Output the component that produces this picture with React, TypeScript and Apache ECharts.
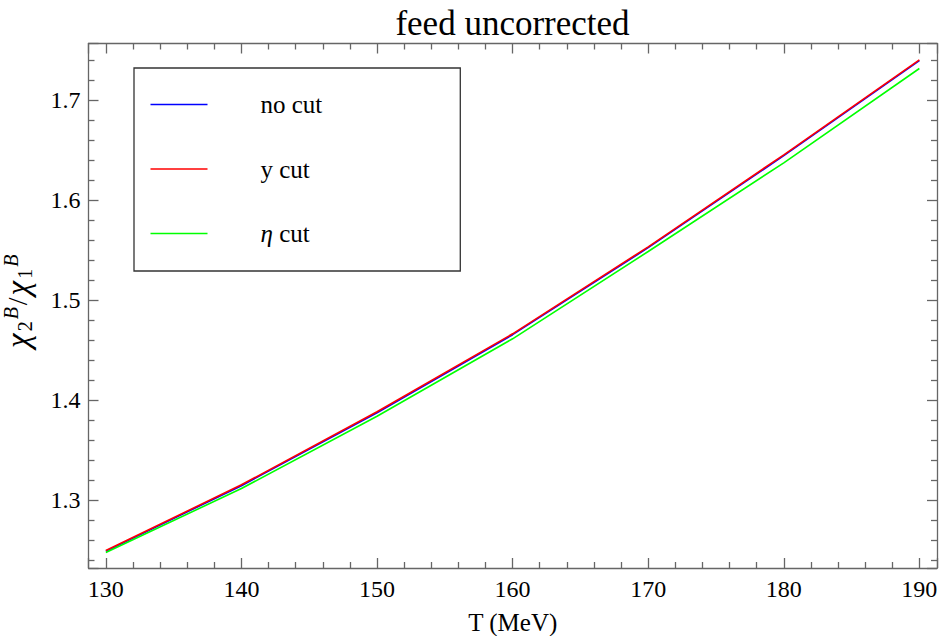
import React, { useEffect, useRef } from "react";
import * as echarts from "echarts";

const temperatures = [130, 140, 150, 160, 170, 180, 190];
const noCut = [1.2488, 1.3143, 1.3873, 1.4653, 1.5523, 1.6443, 1.7393];
const yCut = [1.2495, 1.3152, 1.3882, 1.4662, 1.5532, 1.6452, 1.7402];
const etaCut = [1.2475, 1.3115, 1.3838, 1.4612, 1.5485, 1.6372, 1.7315];

const seriesNames = ["no cut", "y cut", "η cut"];
const seriesColors = ["#0000ff", "#ff0000", "#00ff00"];
const seriesValues = [noCut, yCut, etaCut];

const FONT = "Liberation Serif";
const AXIS_GRAY = "#666666";

export default function App() {
  const ref = useRef<HTMLDivElement>(null);
  useEffect(() => {
    if (!ref.current) return;
    const chart = echarts.init(ref.current, null, { renderer: "svg" });
    const xRange = { min: 128.72, max: 191.3 };
    const yRange = { min: 1.232, max: 1.7565 };
    const tickCommon = {
      axisLine: { show: true, lineStyle: { color: AXIS_GRAY, width: 1.3 } },
      axisTick: { show: true, inside: true, length: 10, lineStyle: { color: AXIS_GRAY, width: 1.3 } },
      minorTick: { show: true, splitNumber: 5, length: 6, lineStyle: { color: AXIS_GRAY, width: 1.3 } },
      splitLine: { show: false },
    };
    const labelRich = { t: { fontFamily: FONT, fontSize: 24, color: "#000" } };
    const LH = 34;
    chart.setOption({
      animation: false,
      backgroundColor: "#ffffff",
      textStyle: { fontFamily: FONT },
      title: {
        text: "feed uncorrected",
        left: 512.5,
        textAlign: "center",
        top: 6,
        padding: 0,
        textStyle: { fontFamily: FONT, fontSize: 35, fontWeight: "normal", fontStyle: "normal", color: "#000" },
      },
      grid: { left: 88.5, right: 6, top: 43.5, bottom: 68, containLabel: false, outerBoundsMode: "none" },
      legend: {
        orient: "vertical",
        left: 134,
        top: 68,
        icon: "rect",
        itemWidth: 57,
        itemHeight: 1.6,
        itemGap: 38.5,
        padding: [23.5, 138, 24.5, 16.5],
        borderColor: "#333",
        borderWidth: 1.3,
        backgroundColor: "#fff",
        data: seriesNames,
        formatter: (name: string) => (name === "η cut" ? "{i|η}{n| cut}" : "{n|" + name + "}"),
        textStyle: {
          fontFamily: FONT,
          fontSize: 25,
          lineHeight: 26,
          color: "#000",
          padding: [0, 0, 0, 48],
          rich: {
            i: { fontFamily: FONT, fontSize: 25, fontStyle: "italic", color: "#000", lineHeight: 26 },
            n: { fontFamily: FONT, fontSize: 25, color: "#000", lineHeight: 26 },
          },
        },
      },
      xAxis: [
        {
          type: "value",
          ...xRange,
          splitNumber: 6,
          position: "bottom",
          name: "T (MeV)",
          nameLocation: "middle",
          nameGap: 42,
          nameTextStyle: { fontFamily: FONT, fontSize: 25, color: "#000" },
          ...tickCommon,
          axisLabel: {
            show: true,
            fontFamily: FONT,
            fontSize: 24,
            color: "#000",
            margin: 9,
            showMinLabel: false,
            showMaxLabel: false,
            formatter: (v: number) => "{t|" + v.toFixed(0) + "}",
            rich: labelRich,
          },
        },
        {
          type: "value",
          ...xRange,
          splitNumber: 6,
          position: "top",
          ...tickCommon,
          axisLabel: { show: false },
        },
      ],
      yAxis: [
        {
          type: "value",
          ...yRange,
          splitNumber: 5,
          position: "left",
          name: "{c0|χ}{s|2}{p|B}{d|/}{c|χ}{s|1}{p|B}",
          nameLocation: "middle",
          nameGap: 54,
          nameRotate: 90,
          nameTextStyle: {
            fontFamily: FONT,
            color: "#000",
            rich: {
              c0: { fontFamily: FONT, fontSize: 33, fontStyle: "italic", color: "#000", lineHeight: LH, verticalAlign: "middle", padding: [0, 1, 0, 10] },
              c: { fontFamily: FONT, fontSize: 33, fontStyle: "italic", color: "#000", lineHeight: LH, verticalAlign: "middle", padding: [0, 1, 0, 1] },
              d: { fontFamily: FONT, fontSize: 28, color: "#000", lineHeight: LH, verticalAlign: "middle", padding: [0, 1, 0, 1] },
              s: { fontFamily: FONT, fontSize: 20, color: "#000", lineHeight: LH, verticalAlign: "bottom", padding: [0, 1, 0, 1] },
              p: { fontFamily: FONT, fontSize: 20, fontStyle: "italic", color: "#000", lineHeight: LH, verticalAlign: "top", padding: [0, 1, 0, 1] },
            },
          },
          ...tickCommon,
          axisLabel: {
            show: true,
            fontFamily: FONT,
            fontSize: 24,
            color: "#000",
            margin: 8,
            showMinLabel: false,
            showMaxLabel: false,
            formatter: (v: number) => "{t|" + v.toFixed(1) + "}",
            rich: labelRich,
          },
        },
        {
          type: "value",
          ...yRange,
          splitNumber: 5,
          position: "right",
          ...tickCommon,
          axisLabel: { show: false },
        },
      ],
      series: seriesNames.map((name, i) => ({
        name,
        type: "line",
        xAxisIndex: 0,
        yAxisIndex: 0,
        symbol: "none",
        color: seriesColors[i],
        lineStyle: { color: seriesColors[i], width: 1.6 },
        data: temperatures.map((t, j) => [t, seriesValues[i][j]]),
      })),
    });
    return () => chart.dispose();
  }, []);
  return <div ref={ref} style={{ width: 943, height: 636, position: "absolute", left: 0, top: 0 }} />;
}
